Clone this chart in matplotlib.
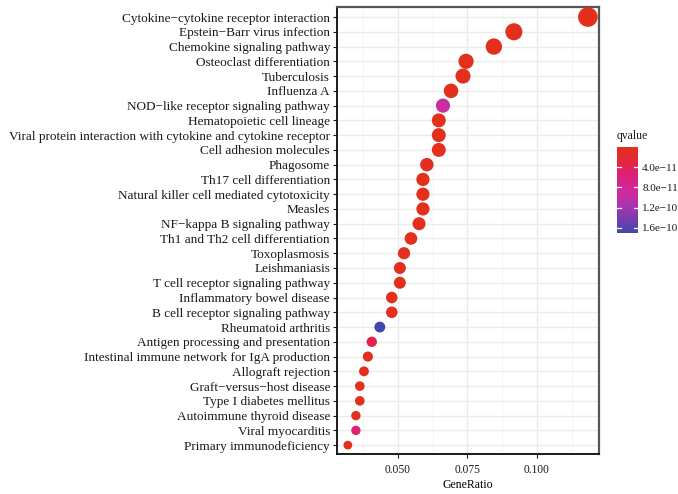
import numpy as np
import matplotlib
matplotlib.use("Agg")
import matplotlib.pyplot as plt
from matplotlib.colors import LinearSegmentedColormap, Normalize

plt.rcParams['font.family'] = ['Liberation Serif', 'DejaVu Serif']

# KEGG enrichment terms, top to bottom
terms = [
    "Cytokine−cytokine receptor interaction",
    "Epstein−Barr virus infection",
    "Chemokine signaling pathway",
    "Osteoclast differentiation",
    "Tuberculosis",
    "Influenza A",
    "NOD−like receptor signaling pathway",
    "Hematopoietic cell lineage",
    "Viral protein interaction with cytokine and cytokine receptor",
    "Cell adhesion molecules",
    "Phagosome",
    "Th17 cell differentiation",
    "Natural killer cell mediated cytotoxicity",
    "Measles",
    "NF−kappa B signaling pathway",
    "Th1 and Th2 cell differentiation",
    "Toxoplasmosis",
    "Leishmaniasis",
    "T cell receptor signaling pathway",
    "Inflammatory bowel disease",
    "B cell receptor signaling pathway",
    "Rheumatoid arthritis",
    "Antigen processing and presentation",
    "Intestinal immune network for IgA production",
    "Allograft rejection",
    "Graft−versus−host disease",
    "Type I diabetes mellitus",
    "Autoimmune thyroid disease",
    "Viral myocarditis",
    "Primary immunodeficiency",
]
gene_ratio = [0.1183, 0.0917, 0.0845, 0.0745, 0.0734, 0.0691, 0.0662, 0.0647,
              0.0647, 0.0647, 0.0604, 0.0590, 0.0590, 0.0590, 0.0576, 0.0547,
              0.0522, 0.0507, 0.0507, 0.0478, 0.0478, 0.0435, 0.0406, 0.0392,
              0.0378, 0.0363, 0.0363, 0.0349, 0.0349, 0.0320]
gene_count = [82, 64, 59, 52, 51, 48, 46, 45, 45, 45, 42, 41, 41, 41, 40, 38,
              36, 35, 35, 33, 33, 30, 28, 27, 26, 25, 25, 24, 24, 22]
qvalue = [1e-20, 1e-16, 1e-15, 1e-14, 1e-14, 2e-13, 9.5e-11, 1e-13, 1e-13,
          1e-13, 6e-12, 1e-12, 1e-12, 1e-12, 2e-12, 1e-12, 3e-12, 2e-12,
          2e-12, 1e-12, 2e-12, 1.7e-10, 3.8e-11, 2e-12, 1e-12, 1e-12, 1e-12,
          2e-12, 4.8e-11, 1e-12]
q_ticks = [4e-11, 8e-11, 1.2e-10, 1.6e-10]
q_tick_labels = ["4.0e−11", "8.0e−11", "1.2e−10", "1.6e−10"]

# red -> magenta -> blue gradient for qvalue
cmap = LinearSegmentedColormap.from_list("qv", [
    (0.00, "#E3301C"),
    (0.15, "#E32838"),
    (0.23, "#E22350"),
    (0.29, "#DE2273"),
    (0.45, "#D42691"),
    (0.56, "#CB2DA3"),
    (0.72, "#9E37B2"),
    (0.88, "#6A41AE"),
    (1.00, "#4248A8"),
])
norm = Normalize(vmin=0, vmax=1.7e-10)

fig = plt.figure(figsize=(6.78, 4.94), dpi=100)
ax = fig.add_axes([337 / 678, 1 - 454 / 494, 262 / 678, 447 / 494])

n = len(terms)
ypos = np.arange(n)[::-1]
cnt = np.array(gene_count, float)
sizes = 40 + (200 - 40) * (cnt - cnt.min()) / (cnt.max() - cnt.min())

ax.scatter(gene_ratio, ypos, s=sizes, c=qvalue, cmap=cmap, norm=norm,
           linewidths=0, zorder=3)

ax.set_xlim(0.0281, 0.1223)
ax.set_ylim(-0.6, n - 1 + 0.68)
ax.set_xticks([0.05, 0.075, 0.1])
ax.set_xticklabels(["0.050", "0.075", "0.100"])
ax.set_xticks([0.0375, 0.0625, 0.0875, 0.1125], minor=True)
ax.set_yticks(ypos)
ax.set_yticklabels(terms)
ax.grid(True, which='major', color='#EBEBEB', lw=1.0, zorder=0)
ax.grid(True, which='minor', axis='x', color='#F2F2F2', lw=0.6, zorder=0)
ax.set_axisbelow(True)
ax.tick_params(axis='both', which='major', labelsize=9.5, colors='#1A1A1A',
               length=3, width=0.8, pad=2)
ax.tick_params(axis='x', which='minor', length=0)
ax.tick_params(axis='x', labelcolor='#1A1A1A', labelsize=8.3, pad=4)
for side in ['top', 'right']:
    ax.spines[side].set_color('#555555')
    ax.spines[side].set_linewidth(1.6)
for side in ['left', 'bottom']:
    ax.spines[side].set_color('#1A1A1A')
    ax.spines[side].set_linewidth(1.4)
ax.set_xlabel("GeneRatio", fontsize=8.5, labelpad=2)

# colour bar, low qvalue (red) on top
cax = fig.add_axes([617 / 678, 1 - 233 / 494, 21 / 678, 86 / 494])
grad = np.linspace(0, 1.7e-10, 300).reshape(-1, 1)
cax.imshow(grad, aspect='auto', cmap=cmap, norm=norm, origin='upper',
           extent=[0, 1, 1.7e-10, 0])
cax.set_xlim(0, 1)
cax.set_ylim(1.7e-10, 0)
cax.set_xticks([])
cax.yaxis.tick_right()
cax.set_yticks(q_ticks)
cax.set_yticklabels(q_tick_labels)
cax.tick_params(axis='y', length=0, labelsize=8, pad=3, colors='#1A1A1A')
for q in q_ticks:
    cax.plot([0, 0.2], [q, q], color='white', lw=0.9)
    cax.plot([0.8, 1], [q, q], color='white', lw=0.9)
for sp in cax.spines.values():
    sp.set_visible(False)
fig.text(617 / 678, 1 - 136 / 494, "qvalue", fontsize=8.5, va='center',
         ha='left', color='#1A1A1A')

fig.savefig("out.png", dpi=100)
